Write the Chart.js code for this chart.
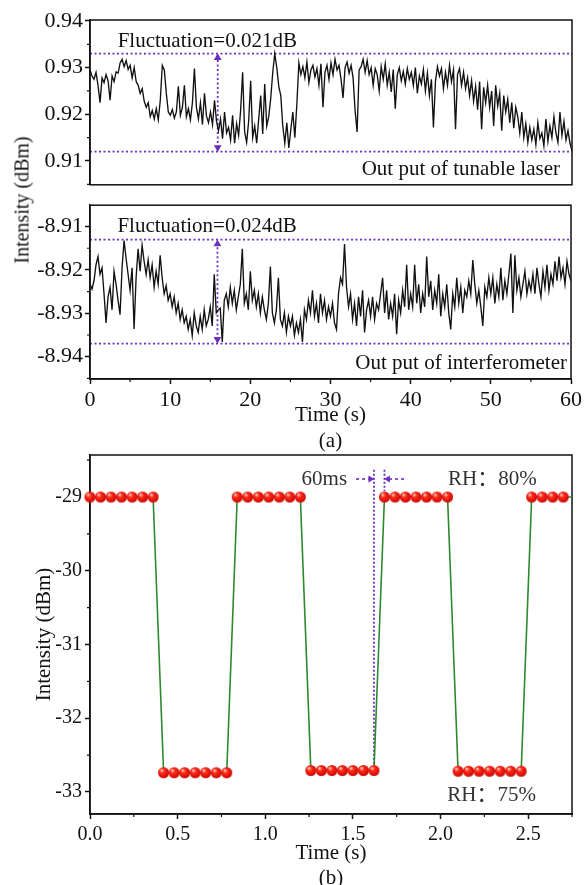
<!DOCTYPE html>
<html>
<head>
<meta charset="utf-8">
<script src="https://cdn.jsdelivr.net/npm/chart.js@4.4.1/dist/chart.umd.min.js"></script>
<style>
  html, body { margin: 0; padding: 0; background: #fff; overflow: hidden; }
  body { width: 585px; height: 885px; position: relative; }
  canvas { position: absolute; left: 0; }
  #ytitleA {
    position: absolute; left: 22px; top: 200px;
    transform: translate(-50%, -50%) rotate(-90deg);
    font: 20px 'Liberation Serif', serif; color: #111; white-space: nowrap;
  }
</style>
</head>
<body>
<canvas id="laserChart" width="585" height="200" style="top:0"></canvas>
<canvas id="interfChart" width="585" height="265" style="top:190px"></canvas>
<canvas id="switchChart" width="585" height="455" style="top:440px"></canvas>
<div id="ytitleA">Intensity (dBm)</div>
<script>
// ---- data ----
const SAMPLE_STEP = 0.25; // s, spacing of the values below (panel a)

// panel (a), output of tunable laser (dBm), t = 0 .. 60 s
const laserIntensity = [
  0.9295, 0.9282, 0.9275, 0.9290, 0.9262, 0.9225, 0.9278, 0.9268, 0.9285, 0.9272, 0.9230, 0.9282, 0.9270, 0.9291, 0.9288, 0.9310, 0.9318, 0.9302, 0.9315, 0.9296,
  0.9305, 0.9278, 0.9300, 0.9270, 0.9262, 0.9245, 0.9255, 0.9228, 0.9215, 0.9225, 0.9195, 0.9208, 0.9190, 0.9212, 0.9188, 0.9230, 0.9305, 0.9295, 0.9245, 0.9205,
  0.9198, 0.9210, 0.9192, 0.9205, 0.9260, 0.9198, 0.9215, 0.9262, 0.9195, 0.9212, 0.9188, 0.9225, 0.9298, 0.9215, 0.9190, 0.9225, 0.9178, 0.9245, 0.9196, 0.9182,
  0.9205, 0.9178, 0.9230, 0.9185, 0.9165, 0.9190, 0.9148, 0.9205, 0.9160, 0.9172, 0.9145, 0.9198, 0.9138, 0.9180, 0.9155, 0.9208, 0.9290, 0.9162, 0.9140, 0.9185,
  0.9272, 0.9150, 0.9175, 0.9138, 0.9190, 0.9240, 0.9158, 0.9265, 0.9175, 0.9195, 0.9235, 0.9290, 0.9330, 0.9300, 0.9260, 0.9240, 0.9175, 0.9138, 0.9182, 0.9128,
  0.9168, 0.9205, 0.9150, 0.9222, 0.9310, 0.9285, 0.9302, 0.9278, 0.9312, 0.9268, 0.9295, 0.9305, 0.9280, 0.9298, 0.9262, 0.9308, 0.9215, 0.9290, 0.9305, 0.9275,
  0.9310, 0.9285, 0.9318, 0.9295, 0.9305, 0.9275, 0.9235, 0.9300, 0.9312, 0.9288, 0.9305, 0.9278, 0.9208, 0.9162, 0.9295, 0.9302, 0.9318, 0.9290, 0.9315, 0.9285,
  0.9300, 0.9262, 0.9298, 0.9285, 0.9250, 0.9302, 0.9275, 0.9308, 0.9262, 0.9290, 0.9248, 0.9296, 0.9212, 0.9285, 0.9300, 0.9272, 0.9292, 0.9265, 0.9298, 0.9275,
  0.9290, 0.9262, 0.9300, 0.9245, 0.9282, 0.9265, 0.9296, 0.9250, 0.9288, 0.9240, 0.9275, 0.9172, 0.9270, 0.9302, 0.9282, 0.9298, 0.9255, 0.9290, 0.9262, 0.9305,
  0.9270, 0.9295, 0.9168, 0.9285, 0.9298, 0.9262, 0.9290, 0.9255, 0.9278, 0.9240, 0.9272, 0.9228, 0.9260, 0.9210, 0.9270, 0.9168, 0.9258, 0.9225, 0.9262, 0.9215,
  0.9250, 0.9175, 0.9262, 0.9218, 0.9245, 0.9165, 0.9240, 0.9205, 0.9232, 0.9182, 0.9225, 0.9170, 0.9215, 0.9195, 0.9160, 0.9205, 0.9150, 0.9180, 0.9140, 0.9172,
  0.9145, 0.9168, 0.9135, 0.9182, 0.9148, 0.9160, 0.9132, 0.9190, 0.9142, 0.9175, 0.9150, 0.9195, 0.9160, 0.9140, 0.9205, 0.9155, 0.9185, 0.9145, 0.9165, 0.9138, 0.9122
];

// panel (a), output of interferometer (dBm), t = 0 .. 60 s
const interfIntensity = [
  -8.9233, -8.9244, -8.9225, -8.9188, -8.9169, -8.9210, -8.9195, -8.9255, -8.9322, -8.9262, -8.9240, -8.9292, -8.9203, -8.9233, -8.9270, -8.9303, -8.9195, -8.9132, -8.9173, -8.9210,
  -8.9247, -8.9195, -8.9336, -8.9218, -8.9151, -8.9203, -8.9143, -8.9180, -8.9210, -8.9177, -8.9218, -8.9188, -8.9240, -8.9203, -8.9233, -8.9166, -8.9218, -8.9255, -8.9236, -8.9270,
  -8.9255, -8.9285, -8.9262, -8.9299, -8.9277, -8.9314, -8.9292, -8.9322, -8.9307, -8.9337, -8.9314, -8.9351, -8.9299, -8.9329, -8.9344, -8.9307, -8.9337, -8.9292, -8.9329, -8.9314,
  -8.9285, -8.9329, -8.9210, -8.9299, -8.9292, -8.9288, -8.9366, -8.9270, -8.9255, -8.9285, -8.9240, -8.9277, -8.9247, -8.9292, -8.9262, -8.9233, -8.9151, -8.9277, -8.9255, -8.9292,
  -8.9203, -8.9270, -8.9247, -8.9285, -8.9255, -8.9299, -8.9262, -8.9292, -8.9314, -8.9277, -8.9192, -8.9299, -8.9322, -8.9292, -8.9218, -8.9314, -8.9329, -8.9299, -8.9344, -8.9307,
  -8.9329, -8.9307, -8.9351, -8.9322, -8.9344, -8.9314, -8.9366, -8.9292, -8.9314, -8.9270, -8.9299, -8.9247, -8.9307, -8.9277, -8.9322, -8.9255, -8.9299, -8.9270, -8.9314, -8.9285,
  -8.9307, -8.9277, -8.9322, -8.9337, -8.9255, -8.9218, -8.9233, -8.9140, -8.9240, -8.9285, -8.9255, -8.9314, -8.9277, -8.9329, -8.9262, -8.9307, -8.9247, -8.9344, -8.9292, -8.9270,
  -8.9307, -8.9262, -8.9314, -8.9277, -8.9292, -8.9255, -8.9218, -8.9299, -8.9247, -8.9314, -8.9277, -8.9307, -8.9255, -8.9348, -8.9270, -8.9299, -8.9247, -8.9285, -8.9188, -8.9292,
  -8.9255, -8.9285, -8.9188, -8.9277, -8.9233, -8.9299, -8.9255, -8.9285, -8.9169, -8.9262, -8.9225, -8.9292, -8.9247, -8.9277, -8.9210, -8.9307, -8.9255, -8.9285, -8.9233, -8.9299,
  -8.9337, -8.9255, -8.9285, -8.9218, -8.9277, -8.9240, -8.9299, -8.9247, -8.9262, -8.9225, -8.9255, -8.9177, -8.9233, -8.9277, -8.9247, -8.9285, -8.9329, -8.9240, -8.9262, -8.9218,
  -8.9255, -8.9218, -8.9277, -8.9233, -8.9262, -8.9195, -8.9270, -8.9225, -8.9255, -8.9210, -8.9162, -8.9299, -8.9166, -8.9247, -8.9218, -8.9262, -8.9233, -8.9203, -8.9255, -8.9225,
  -8.9247, -8.9210, -8.9255, -8.9195, -8.9233, -8.9262, -8.9203, -8.9240, -8.9188, -8.9247, -8.9210, -8.9233, -8.9180, -8.9225, -8.9169, -8.9218, -8.9195, -8.9233, -8.9180, -8.9210, -8.9225
];

const laserBand = [0.9330, 0.9120];     // dotted limits, fluctuation 0.021 dB
const interfBand = [-8.9130, -8.9370];  // dotted limits, fluctuation 0.024 dB

// panel (b), humidity switching 80% <-> 75%
const switchTime = [
  0.00, 0.06, 0.12, 0.18, 0.24, 0.30, 0.36,
  0.42, 0.48, 0.54, 0.60, 0.66, 0.72, 0.78,
  0.84, 0.90, 0.96, 1.02, 1.08, 1.14, 1.20,
  1.26, 1.32, 1.38, 1.44, 1.50, 1.56, 1.62,
  1.68, 1.74, 1.80, 1.86, 1.92, 1.98, 2.04,
  2.10, 2.16, 2.22, 2.28, 2.34, 2.40, 2.46,
  2.52, 2.58, 2.64, 2.70, 2.76
];
const switchIntensity = [
  -29.00, -29.00, -29.00, -29.00, -29.00, -29.00, -29.00,
  -32.74, -32.74, -32.74, -32.74, -32.74, -32.74, -32.74,
  -29.00, -29.00, -29.00, -29.00, -29.00, -29.00, -29.00,
  -32.71, -32.71, -32.71, -32.71, -32.71, -32.71, -32.71,
  -29.00, -29.00, -29.00, -29.00, -29.00, -29.00, -29.00,
  -32.72, -32.72, -32.72, -32.72, -32.72, -32.72, -32.72,
  -29.00, -29.00, -29.00, -29.00, -29.00
];

const SERIF = "'Liberation Serif', 'Noto Sans CJK SC', serif";
const PURPLE = '#6a2fc0';
Chart.defaults.font.family = SERIF;
Chart.defaults.color = '#111';

// box round the plot area, short minor ticks, and text labels in data units
const decorPlugin = {
  id: 'decor',
  beforeDatasetsDraw(chart, args, opts) { if (opts.frameFirst) drawDecor(chart, opts); },
  afterDatasetsDraw(chart, args, opts) { if (!opts.frameFirst) drawDecor(chart, opts); }
};

function drawMinor(ctx, scale, step, axis, a) {
  const k0 = Math.ceil(scale.min / step - 1e-6);
  const k1 = Math.floor(scale.max / step + 1e-6);
  ctx.beginPath();
  for (let k = k0; k <= k1; k++) {
    if (k % 2 === 0) continue;
    const p = scale.getPixelForValue(k * step);
    if (axis === 'x') { ctx.moveTo(p, a.bottom); ctx.lineTo(p, a.bottom + 3); }
    else { ctx.moveTo(a.left - 3, p); ctx.lineTo(a.left, p); }
  }
  ctx.stroke();
}

function drawDecor(chart, opts) {
  const { ctx, chartArea: a, scales } = chart;
  ctx.save();
  ctx.strokeStyle = '#111';
  ctx.lineWidth = 1.5;
  ctx.strokeRect(a.left, a.top, a.right - a.left, a.bottom - a.top);
  ctx.lineWidth = 1.2;
  if (opts.minorX) drawMinor(ctx, scales.x, opts.minorX, 'x', a);
  if (opts.minorY) drawMinor(ctx, scales.y, opts.minorY, 'y', a);
  (opts.texts || []).forEach(t => {
    ctx.font = t.font;
    ctx.fillStyle = t.color || '#111';
    ctx.textAlign = t.align || 'center';
    ctx.textBaseline = 'middle';
    ctx.fillText(t.text, scales.x.getPixelForValue(t.x), scales.y.getPixelForValue(t.y));
  });
  ctx.restore();
}

function yAxis(min, max, step, size, digits, width) {
  return {
    type: 'linear', min: min, max: max,
    afterFit: s => { s.width = width; },
    ticks: { stepSize: step, includeBounds: false, font: { size: size }, padding: 2,
      callback: v => v.toFixed(digits) },
    grid: { drawOnChartArea: false, tickLength: 5, tickColor: '#111', tickWidth: 1.5 },
    border: { color: '#111', width: 1.5 }
  };
}

function hLine(y, x0, x1) {
  return { data: [{ x: x0, y: y }, { x: x1, y: y }], borderColor: PURPLE, borderWidth: 1.8,
    borderDash: [2, 2.5], pointRadius: 0, order: 1 };
}

function vArrow(x, yLow, yHigh) {
  return { data: [{ x: x, y: yLow }, { x: x, y: yHigh }], borderColor: PURPLE, borderWidth: 1.8,
    borderDash: [2, 2.5], pointStyle: 'triangle', pointRadius: 4.5, pointRotation: [180, 0],
    pointBackgroundColor: PURPLE, pointBorderColor: PURPLE, pointBorderWidth: 0, order: 1 };
}

const timeA = laserIntensity.map((_, i) => i * SAMPLE_STEP);
const common = { responsive: false, animation: false, devicePixelRatio: 1,
  plugins: { legend: { display: false }, tooltip: { enabled: false } } };

// ---- panel (a), top: tunable laser ----
new Chart(document.getElementById('laserChart'), {
  type: 'line',
  data: { datasets: [
    { data: timeA.map((t, i) => ({ x: t, y: laserIntensity[i] })), borderColor: '#111',
      borderWidth: 1.35, pointRadius: 0, order: 0 },
    hLine(laserBand[0], 0, 60), hLine(laserBand[1], 0, 60),
    vArrow(15.9, laserBand[1] + 0.0009, laserBand[0] - 0.0009)
  ]},
  options: { ...common,
    layout: { padding: { top: 20, right: 13, left: 0, bottom: 0 } },
    scales: {
      x: { type: 'linear', min: 0, max: 60, display: false },
      y: yAxis(0.9049, 0.9402, 0.01, 22, 2, 90)
    },
    plugins: { ...common.plugins, decor: { minorY: 0.005, texts: [
      { text: 'Fluctuation=0.021dB', x: 14.6, y: 0.9357, font: '21px ' + SERIF },
      { text: 'Out put of tunable laser', x: 58.5, y: 0.9082, font: '21px ' + SERIF, align: 'right' }
    ]}}
  },
  plugins: [decorPlugin]
});

// ---- panel (a), bottom: interferometer ----
new Chart(document.getElementById('interfChart'), {
  type: 'line',
  data: { datasets: [
    { data: timeA.map((t, i) => ({ x: t, y: interfIntensity[i] })), borderColor: '#111',
      borderWidth: 1.35, pointRadius: 0, order: 0 },
    hLine(interfBand[0], 0, 60), hLine(interfBand[1], 0, 60),
    vArrow(15.9, interfBand[1] + 0.001, interfBand[0] - 0.001)
  ]},
  options: { ...common,
    layout: { padding: { top: 10, right: 13, left: 0, bottom: 0 } },
    scales: {
      x: { type: 'linear', min: 0, max: 60,
        afterFit: s => { s.height = 76; },
        ticks: { stepSize: 10, includeBounds: false, font: { size: 22 }, padding: 3 },
        grid: { drawOnChartArea: false, tickLength: 5, tickColor: '#111', tickWidth: 1.5 },
        border: { color: '#111', width: 1.5 },
        title: { display: true, text: ['Time (s)', '(a)'], color: '#111',
          font: { size: 21, lineHeight: 1.24 }, padding: { top: 0, bottom: 0 } } },
      y: yAxis(-8.94515, -8.90507, 0.01, 22, 2, 90)
    },
    plugins: { ...common.plugins, decor: { minorX: 5, minorY: 0.005, texts: [
      { text: 'Fluctuation=0.024dB', x: 14.6, y: -8.9100, font: '21px ' + SERIF },
      { text: 'Out put of interferometer', x: 59.5, y: -8.9415, font: '21px ' + SERIF, align: 'right' }
    ]}}
  },
  plugins: [decorPlugin]
});

// ---- panel (b): response to humidity switching ----
function makeBall(r) {
  const c = document.createElement('canvas');
  c.width = c.height = 2 * r + 2;
  const g = c.getContext('2d');
  const grad = g.createRadialGradient(r - 1, r - 1.5, 0.5, r + 1, r + 1, r + 1);
  grad.addColorStop(0, '#ffc4b8');
  grad.addColorStop(0.3, '#ff2a18');
  grad.addColorStop(1, '#c00000');
  g.fillStyle = grad;
  g.beginPath(); g.arc(r + 1, r + 1, r, 0, Math.PI * 2); g.fill();
  return c;
}
const ball = makeBall(5.5);

new Chart(document.getElementById('switchChart'), {
  type: 'line',
  data: { datasets: [
    { data: switchTime.map((t, i) => ({ x: t, y: switchIntensity[i] })), borderColor: '#2b8a2b',
      borderWidth: 1.6, pointStyle: ball, pointRadius: ctx => (ctx.raw && ctx.raw.x > 2.75 ? 0 : 5),
      clip: { left: 10, top: 10, right: 0, bottom: 10 }, order: 0 },
    { data: [{ x: 1.62, y: -28.63 }, { x: 1.62, y: -32.72 }], borderColor: PURPLE, borderWidth: 1.8,
      borderDash: [2, 2], pointRadius: 0, order: 1 },
    { data: [{ x: 1.68, y: -28.63 }, { x: 1.68, y: -28.92 }], borderColor: PURPLE, borderWidth: 1.8,
      borderDash: [2, 2], pointRadius: 0, order: 1 },
    { data: [{ x: 1.518, y: -28.756 }, { x: 1.600, y: -28.756 }], borderColor: PURPLE, borderWidth: 1.6,
      borderDash: [3, 3], pointStyle: 'triangle', pointRadius: [0, 4], pointRotation: 90,
      pointBackgroundColor: PURPLE, pointBorderWidth: 0, order: 1 },
    { data: [{ x: 1.792, y: -28.756 }, { x: 1.700, y: -28.756 }], borderColor: PURPLE, borderWidth: 1.6,
      borderDash: [3, 3], pointStyle: 'triangle', pointRadius: [0, 4], pointRotation: 270,
      pointBackgroundColor: PURPLE, pointBorderWidth: 0, order: 1 }
  ]},
  options: { ...common,
    layout: { padding: { top: 15, right: 13, left: 0, bottom: 0 } },
    scales: {
      x: { type: 'linear', min: 0, max: 2.75,
        afterFit: s => { s.height = 81; },
        ticks: { stepSize: 0.5, includeBounds: false, font: { size: 20 }, padding: 4,
          callback: v => v.toFixed(1) },
        grid: { drawOnChartArea: false, tickLength: 5, tickColor: '#111', tickWidth: 1.5 },
        border: { color: '#111', width: 1.5 },
        title: { display: true, text: ['Time (s)', '(b)'], color: '#111',
          font: { size: 21, lineHeight: 1.19 }, padding: { top: 0, bottom: 4.5 } } },
      y: { ...yAxis(-33.3, -28.43, 1, 20, 0, 90),
        ticks: { stepSize: 1, includeBounds: false, font: { size: 20 }, padding: 3,
          callback: v => String(Math.round(v)) },
        title: { display: true, text: 'Intensity (dBm)', color: '#111',
          font: { size: 21 }, padding: { top: 32, bottom: 0 } } }
    },
    plugins: { ...common.plugins, decor: { frameFirst: true, minorX: 0.25, minorY: 0.5, texts: [
      { text: '60ms', x: 1.467, y: -28.756, font: '21px ' + SERIF, align: 'right', color: '#333' },
      { text: 'RH：80%', x: 2.043, y: -28.756, font: '21px ' + SERIF, align: 'left', color: '#333' },
      { text: 'RH：75%', x: 2.038, y: -33.043, font: '21px ' + SERIF, align: 'left', color: '#333' }
    ]}}
  },
  plugins: [decorPlugin]
});
</script>
</body>
</html>
